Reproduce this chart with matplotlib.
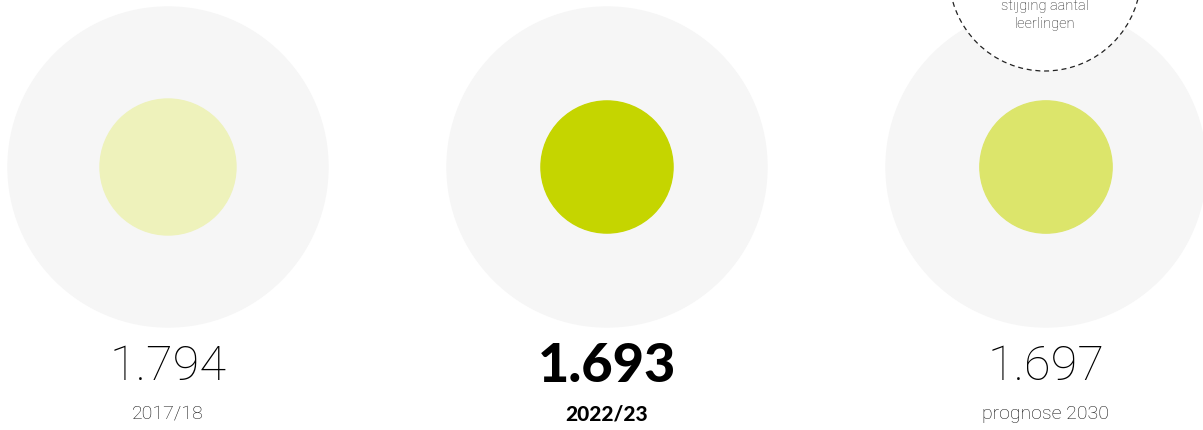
import numpy as np
import matplotlib.pyplot as plt
from matplotlib.patches import Circle

# data
labels = ['2017/18', '2022/23', 'prognose 2030']
waarden = [1794, 1693, 1697]
waarde_tekst = ['1.794', '1.693', '1.697']
kleuren = ['#eef2bb', '#c5d500', '#dce56b']
nadruk = [False, True, False]

W, H = 1203, 430
fig = plt.figure(figsize=(W / 100, H / 100), dpi=100)
ax = fig.add_axes([0, 0, 1, 1])
ax.set_xlim(0, W)
ax.set_ylim(H, 0)
ax.set_aspect('equal')
ax.axis('off')

cx0, dx, cy = 168, 439, 167
k = 68 / np.sqrt(waarden[0])  # straal ~ wortel van aantal

for i in range(3):
    cx = cx0 + i * dx
    ax.add_patch(Circle((cx, cy), 160, color='#f6f6f6', zorder=1))
    ax.add_patch(Circle((cx, cy), k * np.sqrt(waarden[i]), color=kleuren[i], zorder=2))
    if nadruk[i]:
        ax.text(cx, 367, waarde_tekst[i], ha='center', va='center', fontsize=39,
                family='Lato', weight='black', color='black')
        ax.text(cx, 414, labels[i], ha='center', va='center', fontsize=15,
                family='Lato', weight='black', color='black')
    else:
        ax.text(cx, 367, waarde_tekst[i], ha='center', va='center', fontsize=35,
                family='Roboto', weight='light', color='black')
        ax.text(cx, 414, labels[i], ha='center', va='center', fontsize=14,
                family='Roboto', weight='light', color='#111111')

# stippel-cirkel rechtsboven
ax.add_patch(Circle((1045, -25), 96, facecolor='white', edgecolor='#222222',
                    linestyle=(0, (4, 3)), linewidth=0.9, zorder=3))
ax.text(1045, 6, 'stijging aantal', ha='center', va='center', fontsize=10.5,
        family='Roboto', weight='light', color='#222222', zorder=4)
ax.text(1045, 24, 'leerlingen', ha='center', va='center', fontsize=10.5,
        family='Roboto', weight='light', color='#222222', zorder=4)

fig.savefig('out.png', dpi=100)
